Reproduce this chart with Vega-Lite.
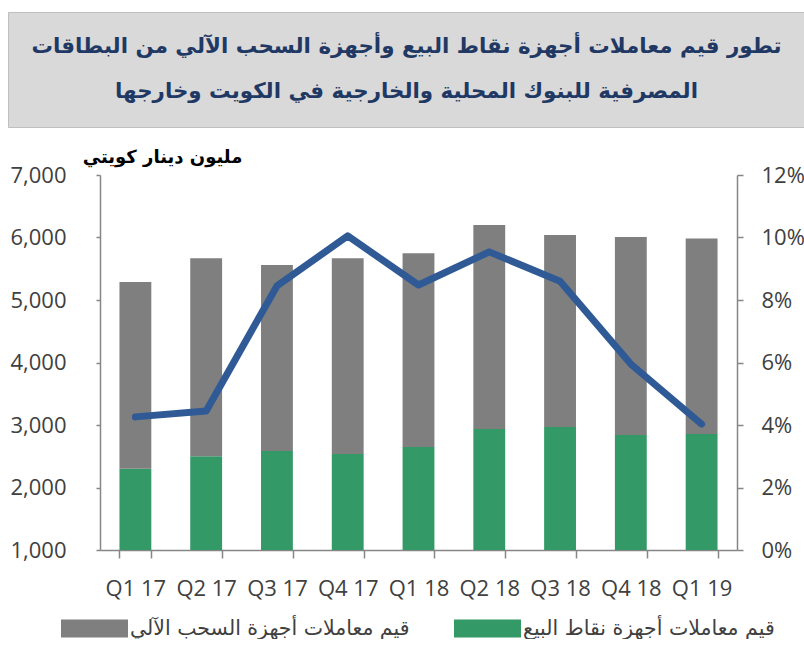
{
  "$schema": "https://vega.github.io/schema/vega-lite/v6.json",
  "background": "white",
  "padding": {"left": 7, "top": 11, "right": 0, "bottom": 0},
  "spacing": 20,
  "datasets": {
    "titles": [
      {"line": 1, "text": "تطور قيم معاملات أجهزة نقاط البيع وأجهزة السحب الآلي من البطاقات"},
      {"line": 2, "text": "المصرفية للبنوك المحلية والخارجية في الكويت وخارجها"}
    ],
    "bars": [
      {"quarter": "Q1 17", "series": "قيم معاملات أجهزة نقاط البيع", "value": 2300},
      {"quarter": "Q1 17", "series": "قيم معاملات أجهزة السحب الآلي", "value": 2990},
      {"quarter": "Q2 17", "series": "قيم معاملات أجهزة نقاط البيع", "value": 2500},
      {"quarter": "Q2 17", "series": "قيم معاملات أجهزة السحب الآلي", "value": 3170},
      {"quarter": "Q3 17", "series": "قيم معاملات أجهزة نقاط البيع", "value": 2585},
      {"quarter": "Q3 17", "series": "قيم معاملات أجهزة السحب الآلي", "value": 2975},
      {"quarter": "Q4 17", "series": "قيم معاملات أجهزة نقاط البيع", "value": 2535},
      {"quarter": "Q4 17", "series": "قيم معاملات أجهزة السحب الآلي", "value": 3135},
      {"quarter": "Q1 18", "series": "قيم معاملات أجهزة نقاط البيع", "value": 2650},
      {"quarter": "Q1 18", "series": "قيم معاملات أجهزة السحب الآلي", "value": 3100},
      {"quarter": "Q2 18", "series": "قيم معاملات أجهزة نقاط البيع", "value": 2935},
      {"quarter": "Q2 18", "series": "قيم معاملات أجهزة السحب الآلي", "value": 3265},
      {"quarter": "Q3 18", "series": "قيم معاملات أجهزة نقاط البيع", "value": 2970},
      {"quarter": "Q3 18", "series": "قيم معاملات أجهزة السحب الآلي", "value": 3070},
      {"quarter": "Q4 18", "series": "قيم معاملات أجهزة نقاط البيع", "value": 2840},
      {"quarter": "Q4 18", "series": "قيم معاملات أجهزة السحب الآلي", "value": 3170},
      {"quarter": "Q1 19", "series": "قيم معاملات أجهزة نقاط البيع", "value": 2855},
      {"quarter": "Q1 19", "series": "قيم معاملات أجهزة السحب الآلي", "value": 3130}
    ],
    "growth": [
      {"quarter": "Q1 17", "rate": 0.0426},
      {"quarter": "Q2 17", "rate": 0.0445},
      {"quarter": "Q3 17", "rate": 0.0845},
      {"quarter": "Q4 17", "rate": 0.1005},
      {"quarter": "Q1 18", "rate": 0.0848},
      {"quarter": "Q2 18", "rate": 0.0954},
      {"quarter": "Q3 18", "rate": 0.086},
      {"quarter": "Q4 18", "rate": 0.0595},
      {"quarter": "Q1 19", "rate": 0.0403}
    ]
  },
  "vconcat": [
    {
      "width": 797,
      "height": 115,
      "view": {"fill": "#d9d9d9", "stroke": "#bfbfbf", "strokeWidth": 1},
      "data": {"name": "titles"},
      "mark": {"type": "text", "font": "DejaVu Sans", "fontWeight": "bold", "fontSize": 21.4, "color": "#1f3864", "align": "center", "baseline": "middle"},
      "encoding": {
        "y": {"field": "line", "type": "ordinal", "axis": null, "scale": {"type": "point", "padding": 0.8}},
        "text": {"field": "text", "type": "nominal"}
      }
    },
    {
      "width": 729,
      "height": 375,
      "view": {"stroke": null},
      "encoding": {
        "x": {
          "field": "quarter", "type": "nominal",
          "scale": {"domain": ["Q1 17", "Q2 17", "Q3 17", "Q4 17", "Q1 18", "Q2 18", "Q3 18", "Q4 18", "Q1 19"], "range": [92, 729], "paddingInner": 0.55, "paddingOuter": 0.275},
          "axis": {"title": null, "labelAngle": 0, "tickBand": "extent", "tickSize": 8, "labelPadding": 20, "labelFont": "Open Sans", "labelFontSize": 22, "labelColor": "#404040", "domainColor": "#868686", "tickColor": "#868686", "domainWidth": 1.5, "tickWidth": 1.5}
        }
      },
      "layer": [
        {
          "data": {"name": "bars"},
          "mark": {"type": "bar", "clip": true},
          "encoding": {
            "y": {
              "field": "value", "type": "quantitative", "stack": "zero",
              "scale": {"domain": [1000, 7000], "nice": false},
              "axis": {
                "offset": -92,
                "values": [1000, 2000, 3000, 4000, 5000, 6000, 7000], "format": ",d",
                "title": "مليون دينار كويتي", "titleAngle": 0, "titleFont": "DejaVu Sans", "titleFontWeight": "bold", "titleFontSize": 18, "titleColor": "#000000",
                "titleAlign": "center", "titleBaseline": "middle", "titleX": 62, "titleY": -18,
                "labelFont": "Open Sans", "labelFontSize": 22, "labelColor": "#404040", "labelPadding": 30, "tickSize": 4,
                "domainColor": "#868686", "tickColor": "#868686", "domainWidth": 1.5, "tickWidth": 1.5, "grid": false
              }
            },
            "color": {
              "field": "series", "type": "nominal",
              "scale": {"domain": ["قيم معاملات أجهزة السحب الآلي", "قيم معاملات أجهزة نقاط البيع"], "range": ["#7f7f7f", "#339966"]},
              "legend": {
                "orient": "none", "legendX": 53, "legendY": 583, "direction": "horizontal", "columns": 2, "title": null,
                "symbolType": "M-1,-0.27H1V0.27H-1Z", "symbolSize": 4489, "symbolStrokeWidth": 0, "symbolOpacity": 1,
                "labelFont": "DejaVu Sans", "labelFontSize": 20.5, "labelColor": "#404040", "labelOffset": 2, "columnPadding": 44, "labelLimit": 400
              }
            },
            "order": {"field": "series", "sort": "descending"}
          }
        },
        {
          "data": {"name": "growth"},
          "mark": {"type": "line", "color": "#2f5a96", "strokeWidth": 7, "strokeCap": "round", "strokeJoin": "round"},
          "encoding": {
            "y": {
              "field": "rate", "type": "quantitative",
              "scale": {"domain": [0, 0.12], "nice": false},
              "axis": {
                "orient": "right", "values": [0, 0.02, 0.04, 0.06, 0.08, 0.1, 0.12], "format": ".0%", "title": null,
                "labelFont": "Open Sans", "labelFontSize": 22, "labelColor": "#404040", "labelPadding": 18, "tickSize": 6,
                "domainColor": "#868686", "tickColor": "#868686", "domainWidth": 1.5, "tickWidth": 1.5, "grid": false
              }
            }
          }
        }
      ],
      "resolve": {"scale": {"y": "independent"}}
    }
  ],
  "config": {"axis": {"grid": false}}
}
